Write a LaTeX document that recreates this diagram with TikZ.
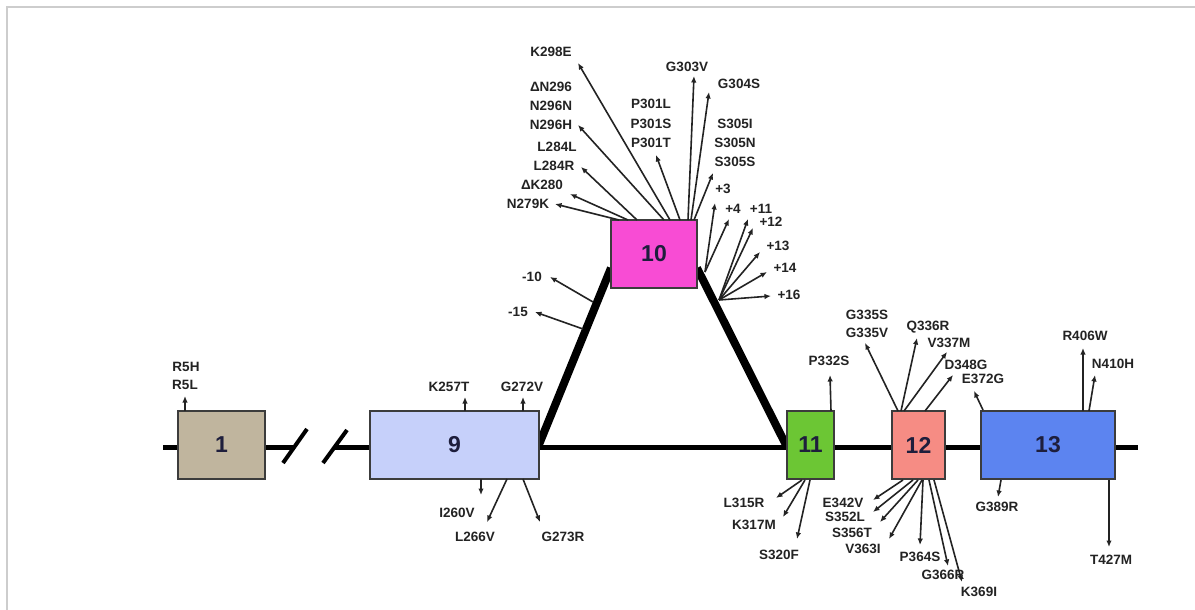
\documentclass[tikz,border=0pt]{standalone}
\usepackage{fontspec}
\setmainfont{Liberation Sans}
\usetikzlibrary{arrows.meta}
\definecolor{txt}{RGB}{35,35,35}
\definecolor{numc}{RGB}{30,30,60}
\definecolor{edge}{RGB}{60,60,60}
\definecolor{frame}{RGB}{205,205,205}
\definecolor{c1}{RGB}{192,181,158}
\definecolor{c9}{RGB}{198,208,250}
\definecolor{c10}{RGB}{248,76,212}
\definecolor{c11}{RGB}{108,198,52}
\definecolor{c12}{RGB}{246,140,132}
\definecolor{c13}{RGB}{92,132,240}
\tikzset{
  exon/.style={draw=edge, line width=1.2pt, inner sep=0pt, text=numc,
    font=\fontsize{23}{25}\selectfont\bfseries},
  lab/.style={font=\fontsize{13.5}{14}\selectfont\bfseries, text=txt, inner sep=0pt},
  mut/.style={draw=txt, line width=1.6pt, -{Latex[length=6.5pt,width=5.5pt]}},
  bb/.style={line width=5pt},
  tri/.style={line width=8pt},
  slash/.style={line width=4pt}
}
\newcommand\mutarr[3]{\coordinate (#1o) at (#2); \coordinate (#1t) at (#3); \draw[mut] (#1o) -- (#1t);}
\begin{document}
\begin{tikzpicture}[x=1pt,y=-1pt]
\useasboundingbox (0,0) rectangle (1195,610);
\fill[white] (0,0) rectangle (1195,610);
% frame
\draw[frame, line width=1.2pt] (7,610) -- (7,7) -- (1195,7);
% backbone
\coordinate (L0) at (163,447);
\coordinate (S1) at (295,447);
\coordinate (S2) at (335,447);
\coordinate (R0) at (1138,447);
\draw[bb] (L0) -- (S1);
\draw[bb] (S2) -- (R0);
\coordinate (s1a) at (283,463); \coordinate (s1b) at (307,429);
\coordinate (s2a) at (323,463); \coordinate (s2b) at (347,430);
\draw[slash] (s1a) -- (s1b);
\draw[slash] (s2a) -- (s2b);
% triangle
\coordinate (j9) at (538,447);
\coordinate (t1) at (611,268);
\coordinate (t2) at (697,268);
\coordinate (j11) at (787,447);
\draw[tri] (j9) -- (t1);
\draw[tri] (t2) -- (j11);
% exons
\node[exon, fill=c1, minimum width=87pt, minimum height=68pt] (b1) at (221.5,445) {1};
\node[exon, fill=c9, minimum width=169pt, minimum height=68pt] (b9) at (454.5,445) {9};
\node[exon, fill=c10, minimum width=86pt, minimum height=68pt] (b10) at (654,254) {10};
\node[exon, fill=c11, minimum width=47pt, minimum height=68pt] (b11) at (810.5,445) {11};
\node[exon, fill=c12, minimum width=53pt, minimum height=68pt] (b12) at (918.5,445) {12};
\node[exon, fill=c13, minimum width=134pt, minimum height=68pt] (b13) at (1048,445) {13};
% exon 1
\mutarr{r5}{185,411}{185,396}
\node[lab] (lR5H) at (186,367) {R5H};
\node[lab] (lR5L) at (185,385) {R5L};
% exon 9
\mutarr{k257}{465,411}{465,397}
\mutarr{g272}{523,411}{523,397}
\node[lab] (lK257T) at (449,387) {K257T};
\node[lab] (lG272V) at (522,387) {G272V};
\mutarr{i260}{481,479}{481,495}
\mutarr{l266}{507,479}{487,522}
\mutarr{g273}{523,479}{540,522}
\node[lab] (lI260V) at (457,513) {I260V};
\node[lab] (lL266V) at (475,537) {L266V};
\node[lab] (lG273R) at (563,537) {G273R};
% -10 -15
\mutarr{m10}{593,302}{550,277}
\mutarr{m15}{583,329}{535,312}
\node[lab] (lm10) at (532,277) {-10};
\node[lab] (lm15) at (518,312) {-15};
% exon 10 left
\mutarr{n279}{619,220}{555,204}
\mutarr{k280}{628,220}{570,194}
\mutarr{l284}{637,220}{581,167}
\mutarr{n296}{664,220}{578,125}
\mutarr{k298}{670,220}{578,63}
\mutarr{p301}{680,220}{656,155}
\mutarr{g303}{688,220}{694,76}
\mutarr{g304}{691,220}{709,92}
\mutarr{s305}{694,220}{713,173}
\node[lab] (lN279K) at (528,204) {N279K};
\node[lab] (lK280) at (542,185) {ΔK280};
\node[lab] (lL284R) at (554,166) {L284R};
\node[lab] (lL284L) at (557,147) {L284L};
\node[lab] (lN296H) at (551,125) {N296H};
\node[lab] (lN296N) at (551,106) {N296N};
\node[lab] (lN296) at (551,87) {ΔN296};
\node[lab] (lK298E) at (551,52) {K298E};
\node[lab] (lP301L) at (651,104) {P301L};
\node[lab] (lP301S) at (651,124) {P301S};
\node[lab] (lP301T) at (651,143) {P301T};
\node[lab] (lG303V) at (687,67) {G303V};
\node[lab] (lG304S) at (739,84) {G304S};
\node[lab] (lS305I) at (735,124) {S305I};
\node[lab] (lS305N) at (735,143) {S305N};
\node[lab] (lS305S) at (735,162) {S305S};
% intron +
\coordinate (pA) at (705,272);
\coordinate (pB) at (719,300);
\coordinate (p3t) at (715,203); \draw[mut] (pA) -- (p3t);
\coordinate (p4t) at (729,219); \draw[mut] (pA) -- (p4t);
\coordinate (p11t) at (748,219); \draw[mut] (pB) -- (p11t);
\coordinate (p12t) at (753,228); \draw[mut] (pB) -- (p12t);
\coordinate (p13t) at (760,252); \draw[mut] (pB) -- (p13t);
\coordinate (p14t) at (767,272); \draw[mut] (pB) -- (p14t);
\coordinate (p16t) at (771,296); \draw[mut] (pB) -- (p16t);
\node[lab] (lp3) at (723,189) {+3};
\node[lab] (lp4) at (733,209) {+4};
\node[lab] (lp11) at (761,209) {+11};
\node[lab] (lp12) at (771,222) {+12};
\node[lab] (lp13) at (778,246) {+13};
\node[lab] (lp14) at (785,268) {+14};
\node[lab] (lp16) at (789,295) {+16};
% exon 11
\mutarr{p332}{831,411}{830,375}
\node[lab] (lP332S) at (829,361) {P332S};
\mutarr{l315}{802,480}{776,498}
\mutarr{k317}{805,480}{783,517}
\mutarr{s320}{810,480}{797,539}
\node[lab] (lL315R) at (744,503) {L315R};
\node[lab] (lK317M) at (754,525) {K317M};
\node[lab] (lS320F) at (779,555) {S320F};
% exon 12
\mutarr{g335}{898,411}{865,343}
\mutarr{q336}{901,411}{917,338}
\mutarr{v337}{904,411}{947,352}
\mutarr{d348}{925,411}{953,375}
\node[lab] (lG335S) at (867,315) {G335S};
\node[lab] (lG335V) at (867,333) {G335V};
\node[lab] (lQ336R) at (928,327) {Q336R};
\node[lab] (lV337M) at (949,343) {V337M};
\node[lab] (lD348G) at (966,365) {D348G};
\mutarr{e342}{903,480}{873,500}
\mutarr{s352}{913,480}{873,512}
\mutarr{s356}{918,480}{880,522}
\mutarr{v363}{922,480}{889,539}
\mutarr{p364}{923,480}{920,545}
\mutarr{g366}{929,480}{948,566}
\mutarr{k369}{934,480}{962,582}
\node[lab] (lE342V) at (843,503) {E342V};
\node[lab] (lS352L) at (845,517) {S352L};
\node[lab] (lS356T) at (852,533) {S356T};
\node[lab] (lV363I) at (863,549) {V363I};
\node[lab] (lP364S) at (920,557) {P364S};
\node[lab] (lG366R) at (943,575) {G366R};
\node[lab] (lK369I) at (979,592) {K369I};
% exon 13
\mutarr{e372}{983,410}{974,391}
\node[lab] (lE372G) at (983,379) {E372G};
\mutarr{r406}{1083,411}{1083,348}
\mutarr{n410}{1089,411}{1095,375}
\node[lab] (lR406W) at (1085,336) {R406W};
\node[lab] (lN410H) at (1113,364) {N410H};
\mutarr{g389}{1001,480}{998,497}
\mutarr{t427}{1109,480}{1109,547}
\node[lab] (lG389R) at (997,507) {G389R};
\node[lab] (lT427M) at (1111,560) {T427M};
\end{tikzpicture}
\end{document}
